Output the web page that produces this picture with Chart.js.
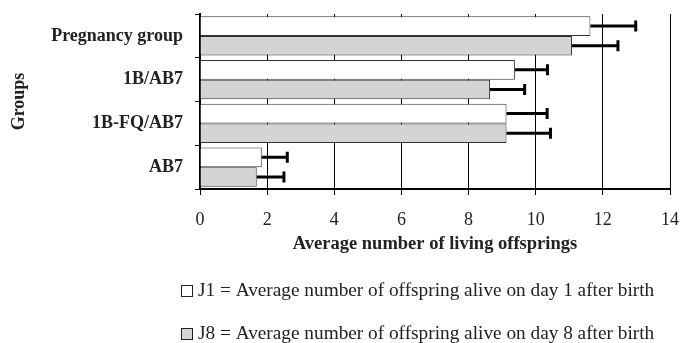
<!DOCTYPE html>
<html>
<head>
<meta charset="utf-8">
<script src="https://cdn.jsdelivr.net/npm/chart.js@4.4.1/dist/chart.umd.min.js"></script>
<style>
html, body { margin: 0; padding: 0; background: #fff; }
</style>
</head>
<body>
<canvas id="chart" width="680" height="343"></canvas>
<script>
var groups = ['Pregnancy group', '1B/AB7', '1B-FQ/AB7', 'AB7'];
var j1 = [11.63, 9.38, 9.13, 1.84];
var j8 = [11.08, 8.64, 9.13, 1.69];
var j1Err = [1.35, 0.97, 1.21, 0.76];
var j8Err = [1.37, 1.03, 1.31, 0.81];
var legendLines = [
    'J1 = Average number of offspring alive on day 1 after birth',
    'J8 = Average number of offspring alive on day 8 after birth'
];
var serif = "'Liberation Serif', 'Times New Roman', serif";

// one sided error bars, drawn at the end of each bar
var errorBars = {
    id: 'errorBars',
    afterDatasetsDraw: function(chart) {
        var ctx = chart.ctx;
        var xs = chart.scales.x;
        ctx.save();
        ctx.strokeStyle = '#000';
        ctx.lineWidth = 3;
        chart.data.datasets.forEach(function(ds, i) {
            var meta = chart.getDatasetMeta(i);
            meta.data.forEach(function(bar, j) {
                var xEnd = xs.getPixelForValue(ds.data[j] + ds.err[j]);
                ctx.beginPath();
                ctx.moveTo(bar.x, bar.y);
                ctx.lineTo(xEnd, bar.y);
                ctx.moveTo(xEnd, bar.y - 5.5);
                ctx.lineTo(xEnd, bar.y + 5.5);
                ctx.stroke();
            });
        });
        ctx.restore();
    }
};

// legend below the chart, one line per series
var textLegend = {
    id: 'textLegend',
    afterDraw: function(chart) {
        var ctx = chart.ctx;
        ctx.save();
        ctx.font = '19.3px ' + serif;
        ctx.textBaseline = 'middle';
        chart.data.datasets.forEach(function(ds, i) {
            var y = 291 + i * 43;
            ctx.fillStyle = ds.backgroundColor;
            ctx.fillRect(181.5, y - 5.5, 11, 11);
            ctx.strokeStyle = '#222';
            ctx.lineWidth = 1;
            ctx.strokeRect(181.5, y - 5.5, 11, 11);
            ctx.fillStyle = '#222';
            ctx.fillText(legendLines[i], 198, y);
        });
        ctx.restore();
    }
};

new Chart('chart', {
    type: 'bar',
    data: {
        labels: groups,
        datasets: [
            {
                label: 'J1',
                data: j1,
                err: j1Err,
                backgroundColor: '#ffffff',
                borderColor: '#333',
                borderWidth: 1,
                categoryPercentage: 0.9,
                barPercentage: 1
            },
            {
                label: 'J8',
                data: j8,
                err: j8Err,
                backgroundColor: '#d4d4d4',
                borderColor: '#333',
                borderWidth: 1,
                categoryPercentage: 0.9,
                barPercentage: 1
            }
        ]
    },
    options: {
        indexAxis: 'y',
        responsive: false,
        animation: false,
        layout: { padding: { left: 0, right: 10, top: 14, bottom: 88 } },
        plugins: {
            legend: { display: false },
            tooltip: { enabled: false }
        },
        scales: {
            x: {
                min: 0,
                max: 14,
                ticks: { stepSize: 2, color: '#222', padding: 14, font: { family: serif, size: 18 } },
                grid: { color: '#000', lineWidth: 1, tickLength: 6, tickColor: '#000' },
                border: { color: '#000', width: 2 },
                title: { display: true, text: 'Average number of living offsprings', color: '#222', padding: { top: 0, bottom: 0 }, font: { family: serif, size: 18.5, weight: 'bold' } },
                afterFit: function(scale) {
                    scale.height = 66;
                    scale.paddingLeft = 0;
                    scale.paddingRight = 0;
                }
            },
            y: {
                ticks: { color: '#222', padding: 12, font: { family: serif, size: 18, weight: 'bold' } },
                grid: { drawOnChartArea: false, tickLength: 5, color: '#000', offset: true },
                border: { color: '#000', width: 2 },
                title: { display: true, text: 'Groups', color: '#222', padding: { top: 9, bottom: 0 }, font: { family: serif, size: 18, weight: 'bold' } },
                afterFit: function(scale) {
                    scale.width = 200;
                    scale.paddingTop = 0;
                    scale.paddingBottom = 0;
                }
            }
        }
    },
    plugins: [errorBars, textLegend]
});
</script>
</body>
</html>
